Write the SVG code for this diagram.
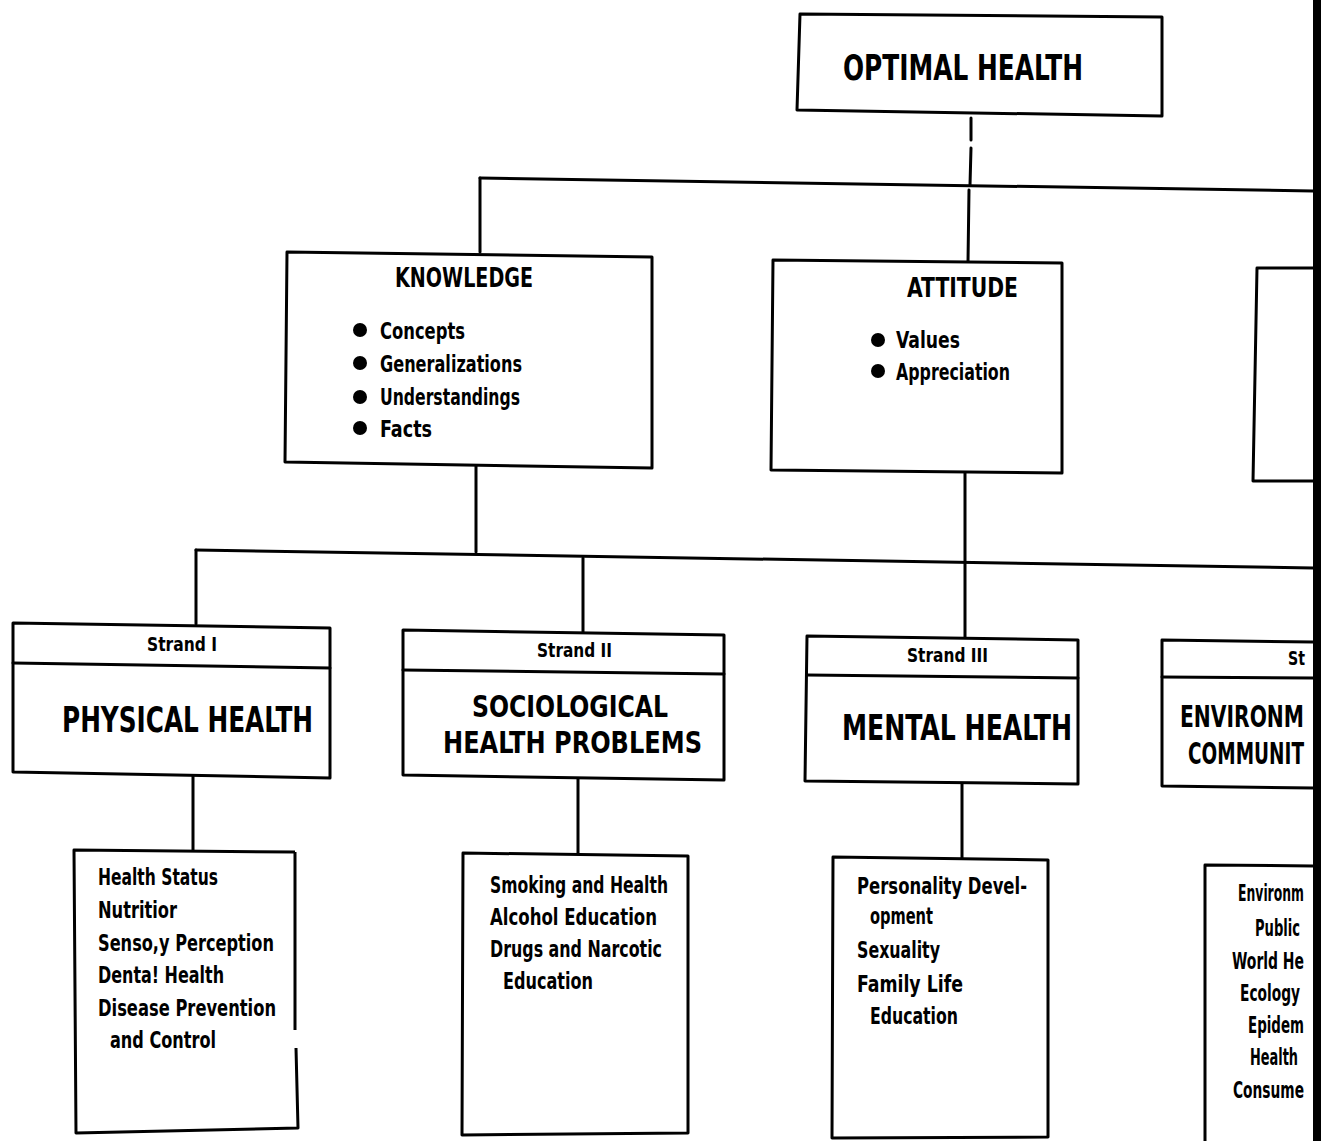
<svg xmlns="http://www.w3.org/2000/svg" width="1321" height="1141" viewBox="0 0 1321 1141">
<style>
.box{fill:#fff;stroke:#000;stroke-width:3;stroke-linejoin:round}
.ln{fill:none;stroke:#000;stroke-width:3;stroke-linecap:round}
text{font-family:"DejaVu Sans Condensed","Liberation Sans Narrow","DejaVu Sans",sans-serif;font-weight:bold;fill:#000}
.big{font-size:35px}
.two{font-size:31px}
.hd{font-size:27px}
.it{font-size:23px}
.st{font-size:20px}
</style>
<rect width="1321" height="1141" fill="#fff"/>
<g id="connectors">
<path class="ln" d="M971 118 L971 140 M971 148 L970 185 M969 190 L968 262"/>
<path class="ln" d="M480 178 L1313 191"/>
<path class="ln" d="M480 178 L480 252"/>
<path class="ln" d="M476 466 L476 552"/>
<path class="ln" d="M196 550 L1313 568"/>
<path class="ln" d="M196 550 L196 624"/>
<path class="ln" d="M583 558 L583 632"/>
<path class="ln" d="M965 472 L965 637"/>
<path class="ln" d="M193 776 L193 851"/>
<path class="ln" d="M578 778 L578 855"/>
<path class="ln" d="M962 783 L962 858"/>
</g>
<g id="optimal">
<path class="box" d="M800 14 L1162 17 L1162 116 L797 110 Z"/>
<text class="big" x="843" y="80" textLength="240" lengthAdjust="spacingAndGlyphs">OPTIMAL HEALTH</text>
</g>
<g id="knowledge">
<path class="box" d="M287 252 L652 257 L652 468 L285 462 Z"/>
<text class="hd" x="395" y="287" textLength="138" lengthAdjust="spacingAndGlyphs">KNOWLEDGE</text>
<circle cx="360" cy="330" r="7"/><circle cx="360" cy="363" r="7"/><circle cx="360" cy="397" r="7"/><circle cx="360" cy="428" r="7"/>
<text class="it" x="380" y="339" textLength="85" lengthAdjust="spacingAndGlyphs">Concepts</text>
<text class="it" x="380" y="372" textLength="142" lengthAdjust="spacingAndGlyphs">Generalizations</text>
<text class="it" x="380" y="405" textLength="140" lengthAdjust="spacingAndGlyphs">Understandings</text>
<text class="it" x="380" y="437" textLength="52" lengthAdjust="spacingAndGlyphs">Facts</text>
</g>
<g id="attitude">
<path class="box" d="M773 260 L1062 263 L1062 473 L771 470 Z"/>
<text class="hd" x="907" y="297" textLength="111" lengthAdjust="spacingAndGlyphs">ATTITUDE</text>
<circle cx="878" cy="340" r="7"/><circle cx="878" cy="371" r="7"/>
<text class="it" x="896" y="348" textLength="64" lengthAdjust="spacingAndGlyphs">Values</text>
<text class="it" x="896" y="380" textLength="114" lengthAdjust="spacingAndGlyphs">Appreciation</text>
</g>
<g id="third">
<path class="box" d="M1313 268 L1257 268 L1253 481 L1313 481"/>
</g>
<g id="strand1">
<path class="box" d="M13 623 L330 628 L330 778 L13 772 Z"/>
<path class="ln" d="M13 663 L330 668"/>
<text class="st" x="147" y="651" textLength="70" lengthAdjust="spacingAndGlyphs">Strand I</text>
<text class="big" x="62" y="732" textLength="251" lengthAdjust="spacingAndGlyphs">PHYSICAL HEALTH</text>
</g>
<g id="strand2">
<path class="box" d="M403 630 L724 635 L724 780 L403 775 Z"/>
<path class="ln" d="M403 670 L724 674"/>
<text class="st" x="537" y="657" textLength="75" lengthAdjust="spacingAndGlyphs">Strand II</text>
<text class="two" x="472" y="717" textLength="196" lengthAdjust="spacingAndGlyphs">SOCIOLOGICAL</text>
<text class="two" x="443" y="753" textLength="259" lengthAdjust="spacingAndGlyphs">HEALTH PROBLEMS</text>
</g>
<g id="strand3">
<path class="box" d="M807 636 L1078 640 L1078 784 L805 781 Z"/>
<path class="ln" d="M807 675 L1078 678"/>
<text class="st" x="907" y="662" textLength="81" lengthAdjust="spacingAndGlyphs">Strand III</text>
<text class="big" x="842" y="740" textLength="230" lengthAdjust="spacingAndGlyphs">MENTAL HEALTH</text>
</g>
<g id="strand4">
<path class="box" d="M1313 642 L1162 640 L1162 786 L1313 788"/>
<path class="ln" d="M1162 677 L1313 678"/>
<text class="st" x="1288" y="665" textLength="17" lengthAdjust="spacingAndGlyphs">St</text>
<text class="two" x="1180" y="727" textLength="124" lengthAdjust="spacingAndGlyphs">ENVIRONM</text>
<text class="two" x="1188" y="764" textLength="116" lengthAdjust="spacingAndGlyphs">COMMUNIT</text>
</g>
<g id="topics1">
<path class="box" d="M295 852 L74 850 L76 1133 L298 1128 L296 1048 M295 1030 L295 852"/>
<text class="it" x="98" y="885" textLength="120" lengthAdjust="spacingAndGlyphs">Health Status</text>
<text class="it" x="98" y="918" textLength="79" lengthAdjust="spacingAndGlyphs">Nutritior</text>
<text class="it" x="98" y="951" textLength="176" lengthAdjust="spacingAndGlyphs">Senso,y Perception</text>
<text class="it" x="98" y="983" textLength="126" lengthAdjust="spacingAndGlyphs">Denta! Health</text>
<text class="it" x="98" y="1016" textLength="178" lengthAdjust="spacingAndGlyphs">Disease Prevention</text>
<text class="it" x="110" y="1048" textLength="106" lengthAdjust="spacingAndGlyphs">and Control</text>
</g>
<g id="topics2">
<path class="box" d="M463 853 L688 856 L688 1133 L462 1135 Z"/>
<text class="it" x="490" y="893" textLength="178" lengthAdjust="spacingAndGlyphs">Smoking and Health</text>
<text class="it" x="490" y="925" textLength="167" lengthAdjust="spacingAndGlyphs">Alcohol Education</text>
<text class="it" x="490" y="957" textLength="172" lengthAdjust="spacingAndGlyphs">Drugs and Narcotic</text>
<text class="it" x="503" y="989" textLength="90" lengthAdjust="spacingAndGlyphs">Education</text>
</g>
<g id="topics3">
<path class="box" d="M833 857 L1048 860 L1048 1137 L832 1138 Z"/>
<text class="it" x="857" y="894" textLength="170" lengthAdjust="spacingAndGlyphs">Personality Devel-</text>
<text class="it" x="870" y="924" textLength="63" lengthAdjust="spacingAndGlyphs">opment</text>
<text class="it" x="857" y="958" textLength="83" lengthAdjust="spacingAndGlyphs">Sexuality</text>
<text class="it" x="857" y="992" textLength="106" lengthAdjust="spacingAndGlyphs">Family Life</text>
<text class="it" x="870" y="1024" textLength="88" lengthAdjust="spacingAndGlyphs">Education</text>
</g>
<g id="topics4">
<path class="box" d="M1313 866 L1205 865 L1205 1145"/>
<text class="it" x="1238" y="901" textLength="66" lengthAdjust="spacingAndGlyphs">Environm</text>
<text class="it" x="1255" y="936" textLength="45" lengthAdjust="spacingAndGlyphs">Public</text>
<text class="it" x="1232" y="969" textLength="72" lengthAdjust="spacingAndGlyphs">World He</text>
<text class="it" x="1240" y="1001" textLength="60" lengthAdjust="spacingAndGlyphs">Ecology</text>
<text class="it" x="1248" y="1033" textLength="56" lengthAdjust="spacingAndGlyphs">Epidem</text>
<text class="it" x="1250" y="1065" textLength="48" lengthAdjust="spacingAndGlyphs">Health</text>
<text class="it" x="1233" y="1098" textLength="71" lengthAdjust="spacingAndGlyphs">Consume</text>
</g>
<rect x="1313" y="0" width="8" height="1141" fill="#000"/>
</svg>
